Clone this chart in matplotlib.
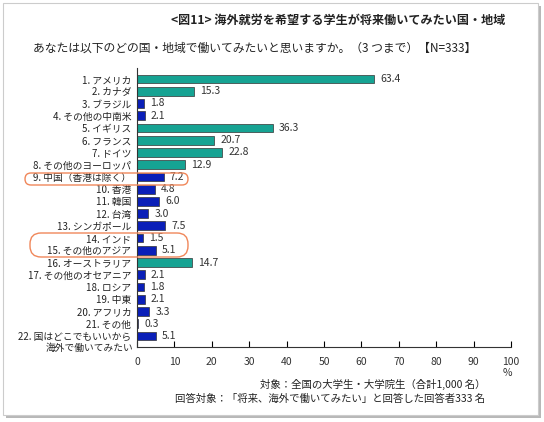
import matplotlib
matplotlib.use("Agg")
import matplotlib.pyplot as plt
from matplotlib.patches import Rectangle, FancyBboxPatch
import matplotlib.transforms as mtransforms

plt.rcParams['font.family'] = ['Noto Sans CJK JP', 'DejaVu Sans']

# 国・地域
labels = ["1. アメリカ", "2. カナダ", "3. ブラジル", "4. その他の中南米",
          "5. イギリス", "6. フランス", "7. ドイツ", "8. その他のヨーロッパ",
          "9. 中国（香港は除く）", "10. 香港", "11. 韓国", "12. 台湾",
          "13. シンガポール", "14. インド", "15. その他のアジア", "16. オーストラリア",
          "17. その他のオセアニア", "18. ロシア", "19. 中東", "20. アフリカ",
          "21. その他", "22. 国はどこでもいいから"]
last_line2 = "海外で働いてみたい"
# 割合（%）
values = [63.4, 15.3, 1.8, 2.1, 36.3, 20.7, 22.8, 12.9, 7.2, 4.8, 6.0, 3.0,
          7.5, 1.5, 5.1, 14.7, 2.1, 1.8, 2.1, 3.3, 0.3, 5.1]
# 欧米 = teal, その他 = blue
groups = ["w", "w", "o", "o", "w", "w", "w", "w", "o", "o", "o", "o",
          "o", "o", "o", "w", "o", "o", "o", "o", "o", "o"]
xticks = [0, 10, 20, 30, 40, 50, 60, 70, 80, 90, 100]

teal = "#16a393"
blue = "#0a1fb8"
colors = [teal if g == "w" else blue for g in groups]

W, H = 544, 422
fig = plt.figure(figsize=(W / 100, H / 100), dpi=100)

# 外枠と影
fig.patches.append(Rectangle((6 / W, 1 - 418 / H), 535 / W, 412 / H,
                             transform=fig.transFigure, facecolor="#b8b8b8",
                             edgecolor="none", zorder=-3))
fig.patches.append(Rectangle((3 / W, 1 - 415 / H), 535 / W, 412 / H,
                             transform=fig.transFigure, facecolor="white",
                             edgecolor="#cccccc", linewidth=0.8, zorder=-2))

ax = fig.add_axes([137 / W, 1 - 347 / H, 374 / W, 279 / H])
ax.set_facecolor("none")

ypos = list(range(len(values)))
ax.barh(ypos, values, height=0.72, color=colors, edgecolor="#333333", linewidth=0.5)

for y, v in zip(ypos, values):
    ax.text(v + 1.6, y, f"{v:.1f}", va="center", ha="left", fontsize=7.5, color="#333333")

ax.set_xlim(0, 100)
ax.set_ylim(len(values) - 0.1, -0.9)
ax.set_yticks(ypos)
ax.set_yticklabels(labels, fontsize=7, color="#222222")
ax.tick_params(axis="y", length=0, pad=4)
ax.set_xticks(xticks)
ax.set_xticklabels([str(t) for t in xticks], fontsize=7.5, color="#333333")
ax.tick_params(axis="x", direction="in", length=4, width=0.8, pad=7)

trans2 = mtransforms.offset_copy(ax.get_yaxis_transform(), fig=fig, x=-4, y=-12, units="dots")
ax.text(0, len(values) - 1, last_line2, transform=trans2, ha="right", va="center",
        fontsize=7, color="#222222")

for s in ["top", "right"]:
    ax.spines[s].set_visible(False)
ax.spines["left"].set_color("#333333")
ax.spines["bottom"].set_color("#333333")
ax.spines["left"].set_linewidth(0.8)
ax.spines["bottom"].set_linewidth(0.8)

# 強調枠（ピクセル位置）
for x0, y0, x1, y1, r in [(25, 173, 188, 185, 6), (30, 233, 188, 257, 11)]:
    box = FancyBboxPatch((x0 / W, 1 - y1 / H), (x1 - x0) / W, (y1 - y0) / H,
                         boxstyle=f"round,pad=0,rounding_size={r / W}",
                         mutation_aspect=W / H,
                         transform=fig.transFigure, facecolor="none",
                         edgecolor="#f0875a", linewidth=1.0)
    fig.patches.append(box)

fig.text(505 / W, 1 - 20 / H, "<図11> 海外就労を希望する学生が将来働いてみたい国・地域",
         ha="right", va="center", fontsize=8.7, fontweight="bold", color="#222222")
fig.text(33 / W, 1 - 48 / H,
         "あなたは以下のどの国・地域で働いてみたいと思いますか。（3 つまで）【N=333】",
         ha="left", va="center", fontsize=8.5, color="#222222")
fig.text(512 / W, 1 - 373 / H, "%", ha="right", va="center", fontsize=7.5, color="#333333")
fig.text(485 / W, 1 - 384 / H, "対象：全国の大学生・大学院生（合計1,000 名）",
         ha="right", va="center", fontsize=7.5, color="#222222")
fig.text(485 / W, 1 - 399 / H, "回答対象：「将来、海外で働いてみたい」と回答した回答者333 名",
         ha="right", va="center", fontsize=7.5, color="#222222")

fig.savefig("out.png", dpi=100)
